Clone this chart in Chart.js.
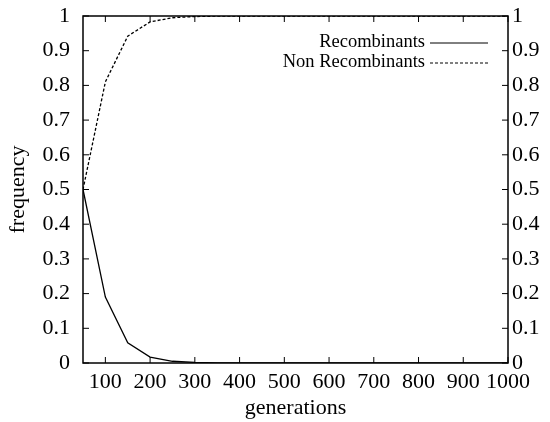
<!DOCTYPE html>
<html lang="en">
<head>
  <meta charset="UTF-8" />
  <title>Recombinants vs generations</title>
  <script src="https://cdn.jsdelivr.net/npm/chart.js"></script>
  <style>
    html, body { margin: 0; padding: 0; background: #fff; }
    #wrap { width: 550px; height: 422px; }
  </style>
</head>
<body>
<div id="wrap"><canvas id="myChart" width="550" height="422"></canvas></div>

<script>
  // data
  const generations = [50, 100, 150, 200, 250, 300, 350, 400, 450, 500,
                       550, 600, 650, 700, 750, 800, 850, 900, 950, 1000];
  const recombinants = [0.5, 0.19, 0.058, 0.017, 0.005, 0.0015, 0.0004, 0.0001, 0, 0,
                        0, 0, 0, 0, 0, 0, 0, 0, 0, 0];
  const nonRecombinants = [0.5, 0.81, 0.942, 0.983, 0.995, 0.9985, 0.9996, 0.9999, 1, 1,
                           1, 1, 1, 1, 1, 1, 1, 1, 1, 1];
  const xTicks = [100, 200, 300, 400, 500, 600, 700, 800, 900, 1000];
  const seriesNames = ['Recombinants', 'Non Recombinants'];

  const FONT = 'Liberation Serif';
  Chart.defaults.font.family = FONT;
  Chart.defaults.color = '#000';

  const toPoints = arr => arr.map((v, i) => ({ x: generations[i], y: v }));

  // gnuplot-like frame with inward ticks on all four sides + key in top right
  const framePlugin = {
    id: 'frame',
    afterDatasetsDraw(chart) {
      const { ctx, chartArea: a, scales } = chart;
      ctx.save();
      ctx.strokeStyle = '#000';
      ctx.lineWidth = 1.5;
      ctx.strokeRect(a.left, a.top, a.right - a.left, a.bottom - a.top);
      ctx.lineWidth = 1;
      const len = 6;
      ctx.beginPath();
      scales.x.ticks.forEach(t => {
        const px = scales.x.getPixelForValue(t.value);
        ctx.moveTo(px, a.bottom); ctx.lineTo(px, a.bottom - len);
        ctx.moveTo(px, a.top); ctx.lineTo(px, a.top + len);
      });
      scales.y.ticks.forEach(t => {
        const py = scales.y.getPixelForValue(t.value);
        ctx.moveTo(a.left, py); ctx.lineTo(a.left + len, py);
        ctx.moveTo(a.right, py); ctx.lineTo(a.right - len, py);
      });
      ctx.stroke();

      // key
      ctx.font = '18.5px "' + FONT + '"';
      ctx.fillStyle = '#000';
      ctx.textAlign = 'right';
      ctx.textBaseline = 'middle';
      const lineEnd = a.right - 20, lineStart = lineEnd - 58, textX = lineStart - 5;
      chart.data.datasets.forEach((ds, i) => {
        const y = a.top + 26 + i * 20;
        ctx.fillText(ds.label, textX, y);
        ctx.beginPath();
        ctx.setLineDash(ds.borderDash || []);
        ctx.lineWidth = 1;
        ctx.moveTo(lineStart, y + 1); ctx.lineTo(lineEnd, y + 1);
        ctx.stroke();
      });
      ctx.restore();
    }
  };

  const noPad = s => { s.paddingTop = 0; s.paddingBottom = 0; s.paddingLeft = 0; s.paddingRight = 0; };

  const ctx = document.getElementById('myChart').getContext('2d');
  const myChart = new Chart(ctx, {
    type: 'line',
    data: {
      datasets: [
        {
          label: seriesNames[0],
          data: toPoints(recombinants),
          borderColor: '#000',
          borderWidth: 1.3,
          pointRadius: 0,
          tension: 0
        },
        {
          label: seriesNames[1],
          data: toPoints(nonRecombinants),
          borderColor: '#000',
          borderWidth: 1.3,
          borderDash: [3, 2],
          pointRadius: 0,
          tension: 0
        }
      ]
    },
    options: {
      responsive: false,
      animation: false,
      layout: { padding: { top: 16, left: 0, right: 0, bottom: 0 } },
      plugins: { legend: { display: false }, tooltip: { enabled: false } },
      scales: {
        x: {
          type: 'linear',
          min: 50,
          max: 1000,
          afterBuildTicks: s => { s.ticks = xTicks.map(v => ({ value: v })); },
          afterFit: s => { s.height = 59; noPad(s); },
          grid: { display: false, drawTicks: false },
          border: { display: false },
          ticks: { autoSkip: false, maxRotation: 0, padding: 6, font: { size: 22 }, callback: v => String(v) },
          title: { display: true, text: 'generations', font: { size: 22 }, padding: { top: 0, bottom: 1 } }
        },
        y: {
          min: 0,
          max: 1,
          position: 'left',
          afterFit: s => { s.width = 83; noPad(s); },
          grid: { display: false, drawTicks: false },
          border: { display: false },
          ticks: { stepSize: 0.1, padding: 13, font: { size: 22 }, callback: v => String(+v.toFixed(1)) },
          title: { display: true, text: 'frequency', font: { size: 22 }, padding: { top: 5, bottom: 0 } }
        },
        y2: {
          min: 0,
          max: 1,
          position: 'right',
          display: true,
          afterFit: s => { s.width = 42; noPad(s); },
          grid: { display: false, drawTicks: false },
          border: { display: false },
          ticks: { stepSize: 0.1, padding: 4, font: { size: 22 }, callback: v => String(+v.toFixed(1)) }
        }
      }
    },
    plugins: [framePlugin]
  });
</script>
</body>
</html>
